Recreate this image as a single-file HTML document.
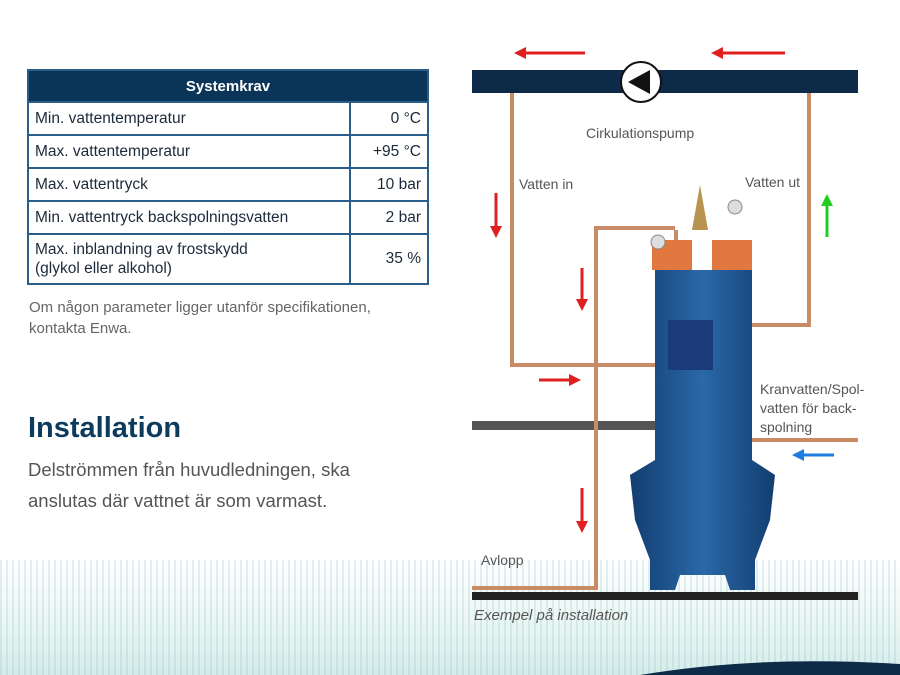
<!DOCTYPE html>
<html><head><meta charset="utf-8"><style>
body{margin:0;width:900px;height:675px;overflow:hidden;background:#fff;font-family:"Liberation Sans",sans-serif;position:relative}
.abs{position:absolute}
table{position:absolute;left:27px;top:69px;width:402px;border-collapse:collapse;font-size:15.5px;color:#1c2a3a}
td,th{border:2px solid #2a5d8a;padding:0 6px;height:31px}
th{background:#0b3558;color:#fff;font-size:15px;height:30px}
td.v{text-align:right;width:64px}
</style></head><body>
<div class="abs" style="left:0;top:560px;width:900px;height:115px;background:repeating-linear-gradient(90deg,rgba(120,190,200,.22) 0 2px,rgba(255,255,255,0) 2px 6px),linear-gradient(180deg,#fff 0,#eef7f4 50%,#d6ece9 100%)"></div>
<table>
<tr><th colspan="2">Systemkrav</th></tr>
<tr><td style="height:30px">Min. vattentemperatur</td><td class="v">0 °C</td></tr>
<tr><td>Max. vattentemperatur</td><td class="v">+95 °C</td></tr>
<tr><td>Max. vattentryck</td><td class="v">10 bar</td></tr>
<tr><td>Min. vattentryck backspolningsvatten</td><td class="v">2 bar</td></tr>
<tr><td style="height:48px;line-height:19px">Max. inblandning av frostskydd<br>(glykol eller alkohol)</td><td class="v">35 %</td></tr>
</table>
<div class="abs" style="left:29px;top:297px;font-size:15px;line-height:21px;color:#666">Om någon parameter ligger utanför specifikationen,<br>kontakta Enwa.</div>
<div class="abs" style="left:28px;top:412px;font-size:29px;font-weight:bold;color:#0d3b5e">Installation</div>
<div class="abs" style="left:28px;top:454px;font-size:18.5px;line-height:31px;color:#555">Delströmmen från huvudledningen, ska<br>anslutas där vattnet är som varmast.</div>
<svg class="abs" style="left:0;top:0" width="900" height="675">
<defs><marker id="r" markerWidth="4" markerHeight="4" refX="2" refY="2" orient="auto"><path d="M0,0L4,2L0,4Z" fill="#e02020"/></marker>
<marker id="g" markerWidth="4" markerHeight="4" refX="2" refY="2" orient="auto"><path d="M0,0L4,2L0,4Z" fill="#22cc22"/></marker>
<marker id="b" markerWidth="4" markerHeight="4" refX="2" refY="2" orient="auto"><path d="M0,0L4,2L0,4Z" fill="#1e7be0"/></marker>
<linearGradient id="tk" x1="0" x2="1"><stop offset="0" stop-color="#123e70"/><stop offset=".5" stop-color="#2a68a8"/><stop offset="1" stop-color="#123e70"/></linearGradient></defs>
<rect x="472" y="70" width="386" height="23" fill="#0d2a48"/>
<circle cx="641" cy="82" r="20" fill="#fff" stroke="#111" stroke-width="2"/>
<path d="M628,82L650,70L650,94Z" fill="#111"/>
<g stroke="#e02020" stroke-width="3" fill="none">
<line x1="585" y1="53" x2="520" y2="53" marker-end="url(#r)"/>
<line x1="785" y1="53" x2="717" y2="53" marker-end="url(#r)"/>
<line x1="496" y1="193" x2="496" y2="232" marker-end="url(#r)"/>
<line x1="582" y1="268" x2="582" y2="305" marker-end="url(#r)"/>
<line x1="539" y1="380" x2="575" y2="380" marker-end="url(#r)"/>
<line x1="582" y1="488" x2="582" y2="527" marker-end="url(#r)"/>
</g>
<line x1="827" y1="237" x2="827" y2="200" stroke="#22cc22" stroke-width="3" marker-end="url(#g)"/>
<line x1="834" y1="455" x2="798" y2="455" stroke="#1e7be0" stroke-width="3" marker-end="url(#b)"/>
<rect x="472" y="421" width="190" height="9" fill="#555"/>
<g stroke="#c98a66" stroke-width="4" fill="none">
<path d="M512,93V365H676V230"/>
<path d="M809,93V325H746V260"/>
<path d="M675,228H596V588H472"/>
<path d="M722,270V440H858"/>
</g>
<path d="M655,270L752,270L752,460L775,475L770,520L755,560L755,590L730,590L725,575L680,575L675,590L650,590L650,560L635,520L630,475L655,460Z" fill="url(#tk)"/>
<rect x="668" y="320" width="45" height="50" fill="#1a3a7a"/>
<path d="M700,185L708,230L692,230Z" fill="#b89450"/>
<rect x="652" y="240" width="40" height="30" fill="#e07840"/>
<rect x="712" y="240" width="40" height="30" fill="#e07840"/>
<circle cx="658" cy="242" r="7" fill="#ddd" stroke="#888"/>
<circle cx="735" cy="207" r="7" fill="#ddd" stroke="#888"/>
<rect x="472" y="592" width="386" height="8" fill="#222"/>
<path d="M640,675Q760,655 900,664V675Z" fill="#0d2a48"/>
</svg>
<div class="abs" style="left:586px;top:125px;font-size:14px;color:#555">Cirkulationspump</div>
<div class="abs" style="left:519px;top:176px;font-size:14px;color:#555">Vatten in</div>
<div class="abs" style="left:745px;top:174px;font-size:14px;color:#555">Vatten ut</div>
<div class="abs" style="left:760px;top:380px;font-size:14px;line-height:19px;color:#555">Kranvatten/Spol-<br>vatten för back-<br>spolning</div>
<div class="abs" style="left:481px;top:552px;font-size:14px;color:#555">Avlopp</div>
<div class="abs" style="left:474px;top:607px;font-size:15px;font-style:italic;color:#555">Exempel på installation</div>
</body></html>
